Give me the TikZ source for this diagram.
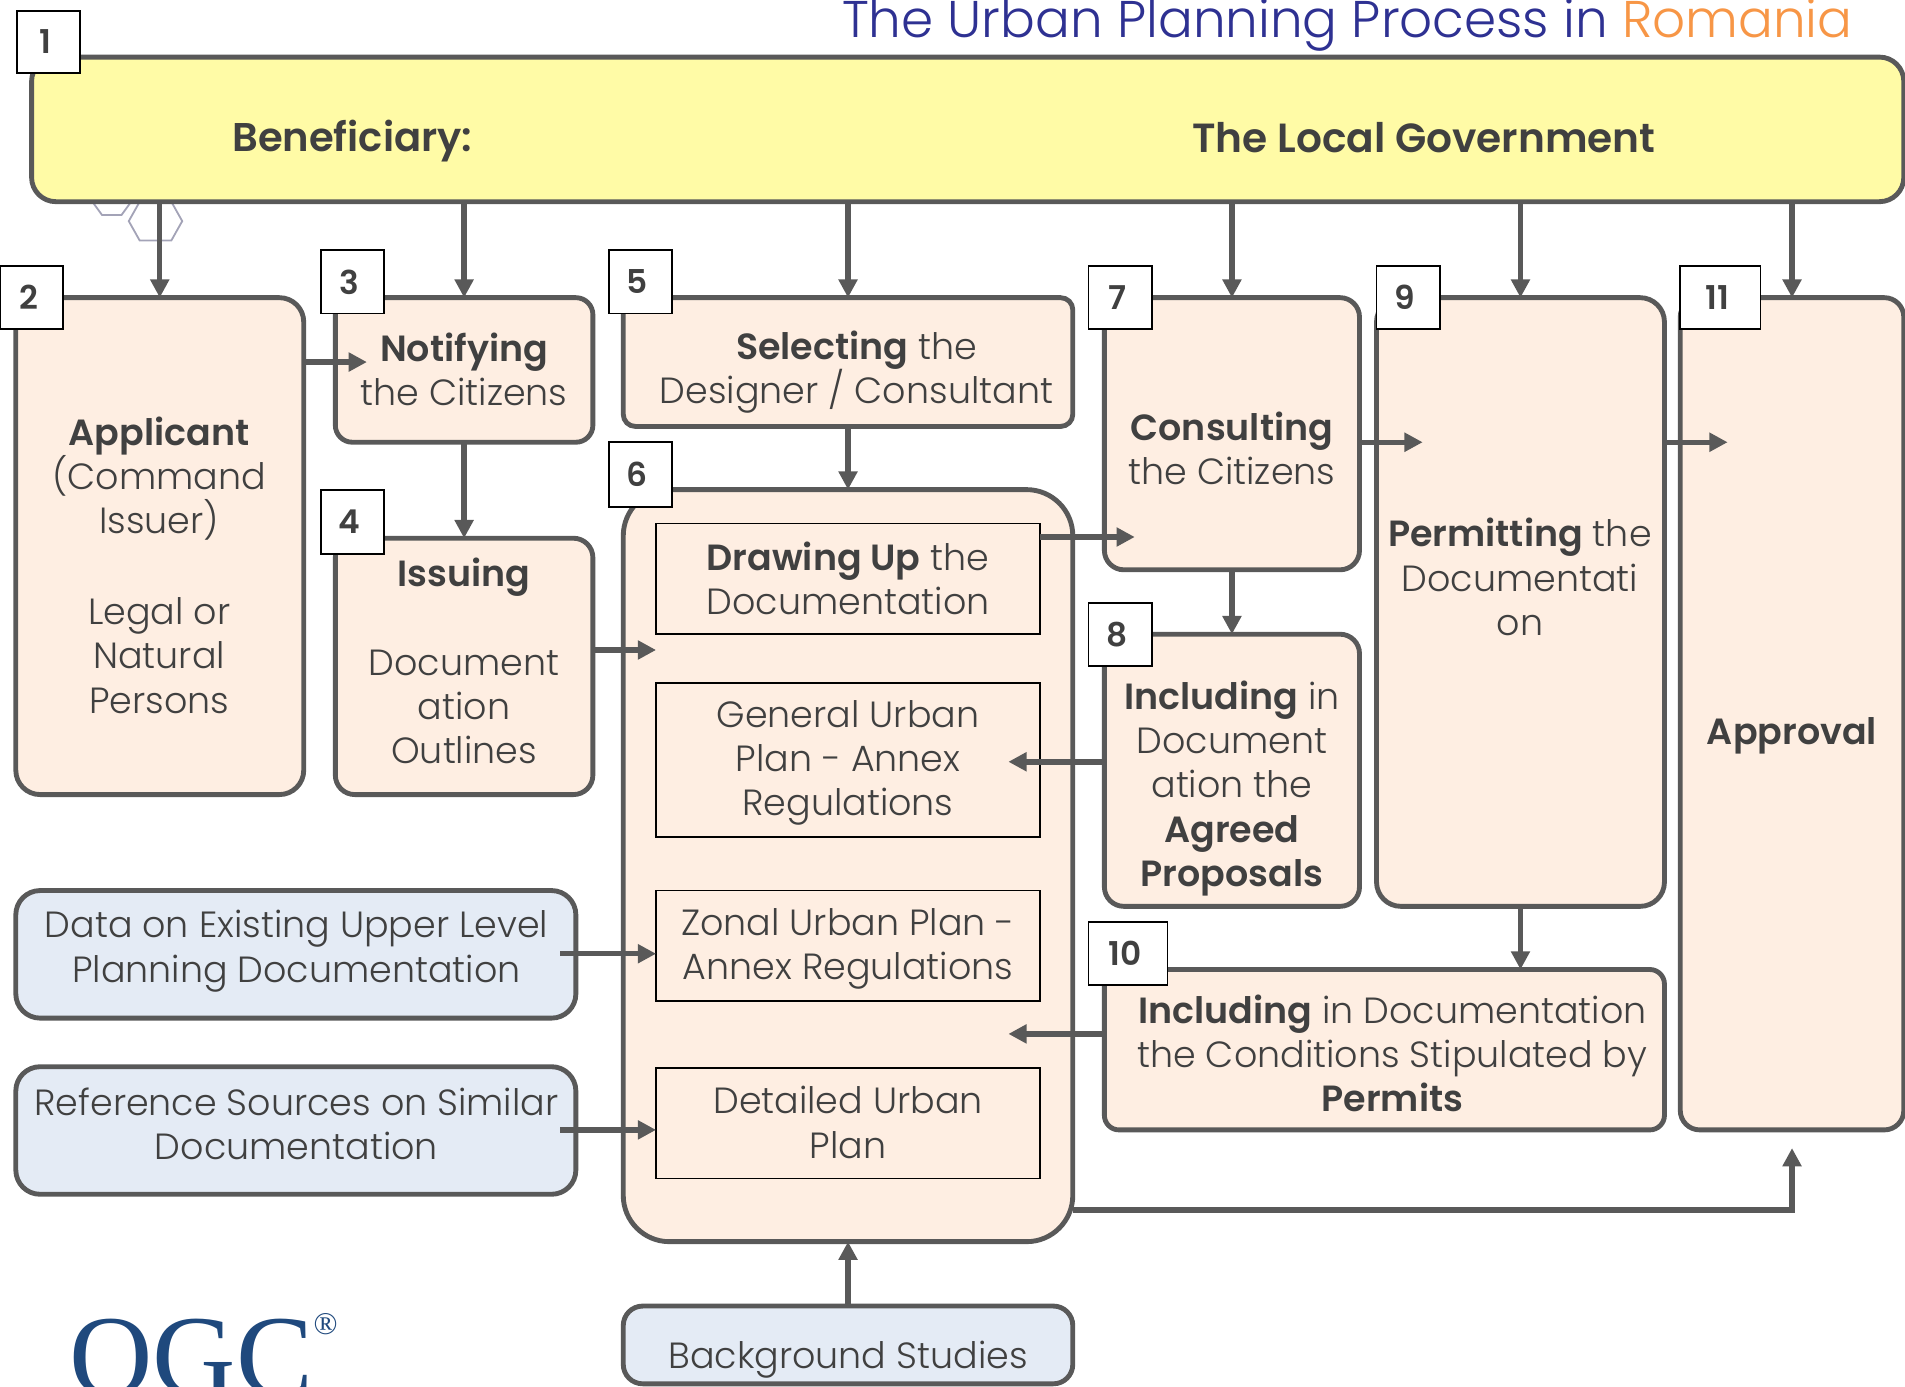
\documentclass[tikz,border=0pt]{standalone}
\usepackage{fontspec}
\setmainfont{Poppins Light}[BoldFont={Poppins SemiBold}]
\newfontfamily\logofont{Liberation Serif}
\usetikzlibrary{arrows.meta,calc}
\definecolor{edgegray}{HTML}{595959}
\definecolor{txtgray}{HTML}{404040}
\definecolor{peach}{HTML}{FEEEE2}
\definecolor{bluefill}{HTML}{E4EBF5}
\definecolor{yellowfill}{HTML}{FFFBA6}
\definecolor{titlenavy}{HTML}{2E3192}
\definecolor{titleorange}{HTML}{F79646}
\definecolor{logoblue}{HTML}{1F497D}
\newcommand{\boxat}[7]{% style,name,x1,y1,x2,y2,radius
  \pgfmathsetmacro{\bw}{#5-#3}\pgfmathsetmacro{\bh}{#6-#4}
  \node[#1,rounded corners=#7pt,minimum width=\bw pt,minimum height=\bh pt] (#2) at ({(#3+#5)/2},{(#4+#6)/2}) {};}
\newcommand{\numat}[6]{% name,x1,y1,x2,y2,text
  \pgfmathsetmacro{\bw}{#4-#2}\pgfmathsetmacro{\bh}{#5-#3}
  \node[numbox,minimum width=\bw pt,minimum height=\bh pt] (#1) at ({(#2+#4)/2},{(#3+#5)/2}) {\hspace*{-5pt}#6};}
\tikzset{
  peachbox/.style={draw=edgegray,line width=4pt,fill=peach,outer sep=0pt,inner sep=0pt},
  bluebox/.style={draw=edgegray,line width=4pt,fill=bluefill,outer sep=0pt,inner sep=0pt},
  yellowbox/.style={draw=edgegray,line width=4pt,fill=yellowfill,outer sep=0pt,inner sep=0pt},
  innerbox/.style={draw=black,line width=1.3pt,fill=peach,outer sep=0pt,inner sep=0pt},
  numbox/.style={draw=black,line width=1.5pt,fill=white,outer sep=0pt,inner sep=0pt,text=txtgray,font=\fontsize{27}{30}\selectfont\bfseries},
  lab/.style={text=txtgray,align=center,inner sep=0pt,font=\fontsize{30}{36.5}\selectfont},
  flow/.style={draw=edgegray,line width=4.5pt,-{Triangle[length=15pt,width=15pt]}},
  hex/.style={draw=black!35!blue!20!gray!60,line width=1.5pt},
}
\begin{document}
\begin{tikzpicture}[x=1pt,y=-1pt]
\useasboundingbox (0,0) rectangle (1568,1141);
\clip (0,0) rectangle (1568,1141);
% decorative hexagons behind the banner
\draw[hex] (76,166) -- (84,177) -- (100,177) -- (108,166);
\draw[hex] (106,182) -- (115,166) -- (141,166) -- (150,182) -- (141,198) -- (115,198) -- cycle;
% boxes
\boxat{yellowbox}{b1}{26}{47}{1567}{166}{20}
\boxat{peachbox}{b2}{13}{245}{250}{654}{20}
\boxat{peachbox}{b3}{276}{245}{488}{364}{14}
\boxat{peachbox}{b4}{276}{443}{488}{654}{16}
\boxat{peachbox}{b5}{513}{245}{883}{351}{10}
\boxat{peachbox}{b6}{513}{403}{883}{1022}{38}
\boxat{innerbox}{i1}{540}{431}{856}{522}{0}
\boxat{innerbox}{i2}{540}{562}{856}{689}{0}
\boxat{innerbox}{i3}{540}{733}{856}{824}{0}
\boxat{innerbox}{i4}{540}{879}{856}{970}{0}
\boxat{peachbox}{b7}{909}{245}{1119}{469}{16}
\boxat{peachbox}{b8}{909}{522}{1119}{746}{16}
\boxat{peachbox}{b9}{1133}{245}{1370}{746}{20}
\boxat{peachbox}{b10}{909}{798}{1370}{930}{12}
\boxat{peachbox}{b11}{1383}{245}{1567}{930}{16}
\boxat{bluebox}{s1}{13}{733}{474}{838}{20}
\boxat{bluebox}{s2}{13}{878}{474}{983}{20}
\boxat{bluebox}{s3}{513}{1075}{883}{1139}{16}
% texts
\node[lab,font=\fontsize{33}{36.5}\selectfont\bfseries] (t1a) at (290,116) {Beneficiary:};
\node[lab,font=\fontsize{33.5}{36.5}\selectfont\bfseries] (t1b) at (1172,113) {The Local Government};
\node[lab] (t2) at (131,465) {\textbf{Applicant}\\(Command\\Issuer)\\[38pt]Legal or\\Natural\\Persons};
\node[lab] (t3) at (382,304) {\textbf{Notifying}\\the Citizens};
\node[lab] (t4) at (382,544) {\textbf{Issuing}\\[36.5pt]Document\\ation\\Outlines};
\node[lab] (t5) at (705,306) {\textbf{Selecting} the\\Designer / Consultant};
\node[lab] (t6a) at (698,476) {\textbf{Drawing Up} the\\Documentation};
\node[lab] (t6b) at (698,628) {General Urban\\Plan - Annex\\Regulations};
\node[lab] (t6c) at (698,781) {Zonal Urban Plan -\\Annex Regulations};
\node[lab] (t6d) at (698,924) {Detailed Urban\\Plan};
\node[lab] (t7) at (1014,369) {\textbf{Consulting}\\the Citizens};
\node[lab] (t8) at (1014,649) {\textbf{Including} in\\Document\\ation the\\\textbf{Agreed}\\\textbf{Proposals}};
\node[lab] (t9) at (1251,475) {\textbf{Permitting} the\\Documentati\\on};
\node[lab] (t10) at (1146,867) {\textbf{Including} in Documentation\\the Conditions Stipulated by\\\textbf{Permits}};
\node[lab] (t11) at (1475,606) {\textbf{Approval}};
\node[lab] (ts1) at (244,783) {Data on Existing Upper Level\\Planning Documentation};
\node[lab] (ts2) at (244,925) {Reference Sources on Similar\\Documentation};
\node[lab] (ts3) at (698,1119) {Background Studies};
% free ends of connectors
\coordinate (e23) at (302,298);
\coordinate (e46) at (540,535);
\coordinate (e67) at (934,442);
\coordinate (e86) at (830,627);
\coordinate (e79) at (1171,364);
\coordinate (e911) at (1422,364);
\coordinate (e106) at (830,851);
\coordinate (es1a) at (461,785);
\coordinate (es2a) at (461,930);
\coordinate (e6r) at (883,996);
\coordinate (e11b) at (1475,945);
% connectors
\foreach \n in {b2,b3,b5,b7,b9,b11}{\draw[flow] (\n.north |- b1.south) -- (\n.north);}
\draw[flow] (b3.south) -- (b4.north);
\draw[flow] (b5.south -| b6.north) -- (b6.north);
\draw[flow] (b7.south) -- (b8.north);
\draw[flow] (b9.south) -- (b10.north -| b9.south);
\draw[flow] (b2.east |- e23) -- (e23);
\draw[flow] (b4.east |- e46) -- (e46);
\draw[flow] (i1.east |- e67) -- (e67);
\draw[flow] (b8.west |- e86) -- (e86);
\draw[flow] (b7.east |- e79) -- (e79);
\draw[flow] (b9.east |- e911) -- (e911);
\draw[flow] (b10.west |- e106) -- (e106);
\draw[flow] (es1a) -- (i3.west |- es1a);
\draw[flow] (es2a) -- (i4.west |- es2a);
\draw[flow] (b6.east |- e6r) -- (e11b |- e6r) -- (e11b);
\draw[flow] (s3.north) -- (b6.south);
% number tags
\numat{n1}{14}{9}{66}{60}{1}
\numat{n2}{0}{219}{52}{271}{2}
\numat{n3}{264}{206}{316}{258}{3}
\numat{n4}{264}{403}{316}{456}{4}
\numat{n5}{501}{206}{553}{258}{5}
\numat{n6}{501}{364}{553}{417}{6}
\numat{n7}{896}{219}{948}{271}{7}
\numat{n8}{896}{496}{948}{548}{8}
\numat{n9}{1133}{219}{1185}{271}{9}
\numat{n10}{896}{759}{961}{811}{10}
\numat{n11}{1383}{219}{1449}{271}{11}
% title and logo
\node[anchor=base east,inner sep=0pt,font=\fontsize{42.5}{45}\selectfont,text=titlenavy] (title) at (1525,31) {The Urban Planning Process in \textcolor{titleorange}{Romania}};
\node[anchor=base west,inner sep=0pt,font=\logofont\fontsize{95}{95}\selectfont,text=logoblue,draw=none] (logo) at (57,1149) {OGC};
\node[anchor=center,inner sep=0pt,font=\logofont\fontsize{26}{26}\selectfont,text=logoblue] (reg) at (268,1090) {®};
\end{tikzpicture}
\end{document}
